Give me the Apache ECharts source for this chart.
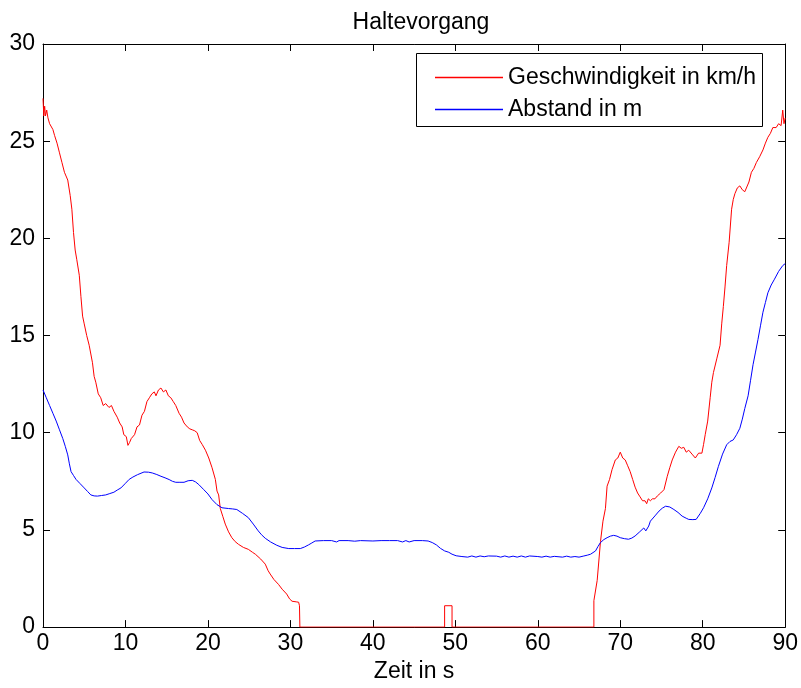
<!DOCTYPE html>
<html>
<head>
<meta charset="utf-8">
<script src="https://cdn.jsdelivr.net/npm/echarts@6/dist/echarts.min.js"></script>
<style>
html,body{margin:0;padding:0;background:#fff;}
#chart{width:801px;height:688px;}
</style>
</head>
<body>
<div id="chart"></div>
<script>
var titleText = 'Haltevorgang';
var xAxisName = 'Zeit in s';
var seriesNames = ['Geschwindigkeit in km/h', 'Abstand in m'];
var seriesColors = ['#ff0000', '#0000ff'];
var xTicks = [0, 10, 20, 30, 40, 50, 60, 70, 80, 90];
var yTicks = [0, 5, 10, 15, 20, 25, 30];

var speedTime = [0,0.1,0.2,0.3,0.45,0.6,0.8,1.0,1.2,1.4,1.7,2.0,2.3,2.6,3.0,3.3,3.5,3.7,3.9,4.1,4.4,4.6,4.8,5.0,5.3,5.6,6.0,6.2,6.4,6.7,7.0,7.3,7.6,8.0,8.3,8.6,8.8,9.0,9.3,9.6,9.8,10.1,10.3,10.5,10.7,10.9,11.1,11.4,11.7,12.0,12.3,12.6,12.9,13.2,13.5,13.7,14.0,14.3,14.6,14.9,15.2,15.5,15.8,16.1,16.5,16.8,17.1,17.5,17.8,18.1,18.4,18.7,19.0,19.3,19.7,20.1,20.5,20.9,21.1,21.3,21.5,21.8,22.1,22.5,22.9,23.3,23.7,24.3,24.9,25.4,25.75,26.4,26.95,27.3,27.55,28.0,28.55,29.0,29.55,29.9,30.2,30.7,31.0,31.1,31.15,48.7,48.7,49.6,49.6,66.8,66.8,67.0,67.2,67.4,67.6,67.9,68.2,68.4,68.7,69.0,69.4,69.7,70.0,70.3,70.6,70.9,71.2,71.5,71.8,72.1,72.4,72.7,73.0,73.2,73.4,73.65,73.9,74.2,74.5,74.9,75.3,75.7,76.0,76.3,76.7,77.1,77.4,77.7,78.0,78.3,78.7,79.1,79.5,79.9,80.1,80.3,80.6,80.9,81.1,81.3,81.7,82.1,82.3,82.5,82.7,82.9,83.2,83.5,83.7,83.9,84.2,84.5,84.8,85.1,85.3,85.6,85.9,86.2,86.5,86.9,87.3,87.6,87.9,88.2,88.5,88.9,89.2,89.5,89.7,89.85,90];
var speedValues = [27.2,26.3,26.8,26.3,26.6,26.2,25.9,25.8,25.6,25.3,24.9,24.4,23.9,23.4,23.0,22.2,21.5,20.3,19.4,18.9,18.1,17.0,16.0,15.6,15.0,14.5,13.6,12.9,12.6,12.0,11.8,11.4,11.5,11.3,11.4,11.1,11.2,10.8,10.5,10.3,9.9,9.8,9.35,9.5,9.7,9.6,9.9,10.3,10.4,10.9,11.1,11.6,11.8,12.0,12.1,11.9,12.2,12.3,12.1,12.2,11.9,11.8,11.6,11.4,11.0,10.8,10.5,10.3,10.2,10.15,10.1,10.0,9.6,9.4,9.1,8.7,8.2,7.6,7.0,6.8,6.1,5.7,5.3,4.9,4.6,4.4,4.26,4.1,4.0,3.85,3.75,3.5,3.24,2.9,2.73,2.45,2.2,1.95,1.7,1.45,1.33,1.3,1.28,1.1,0,0,1.1,1.1,0,0,1.36,1.36,2.4,3.4,4.4,5.45,6.1,7.25,7.6,8.1,8.6,8.7,9.0,8.7,8.6,8.3,8.0,7.6,7.2,6.9,6.7,6.5,6.5,6.35,6.6,6.5,6.6,6.6,6.75,6.9,7.07,7.76,8.2,8.6,9.0,9.3,9.2,9.25,9.0,9.1,8.9,8.7,8.95,8.95,9.4,9.9,10.6,11.8,12.6,13.1,13.8,14.5,15.6,16.5,17.5,18.6,19.8,21.5,22.0,22.3,22.6,22.7,22.5,22.4,22.3,22.9,23.4,23.6,23.9,24.2,24.55,24.9,25.2,25.4,25.7,25.7,25.9,25.8,26.6,25.9,26.2];

var distTime = [0,0.4,0.8,1.2,1.6,2.0,2.4,2.7,3.0,3.2,3.4,3.7,4.0,4.5,5.0,5.4,5.8,6.2,6.6,7.1,7.6,8.1,8.6,9.0,9.45,10.0,10.45,10.9,11.45,12.25,12.8,13.25,13.8,14.3,14.8,15.3,15.7,16.1,16.6,17.1,17.6,18.1,18.5,18.9,19.5,20.0,20.5,21.1,21.7,22.5,23.0,23.5,24.2,24.9,25.5,26.1,26.5,26.95,27.6,28.35,29.0,29.8,30.5,31.2,31.7,32.2,32.6,33.0,34.0,35.0,35.6,35.9,37.0,37.8,38.5,40.0,41.0,42.0,43.0,43.6,44.0,44.4,45.0,46.0,46.7,47.2,47.7,48.2,48.7,49.2,49.6,50.1,50.8,51.5,52.0,52.5,53.0,53.5,54.0,55.0,55.5,56.0,56.5,57.0,57.5,58.0,58.5,59.0,60.0,60.5,61.0,61.5,62.0,63.0,63.5,64.0,64.5,65.0,65.5,66.0,66.4,67.0,67.3,67.6,68.0,68.4,68.8,69.2,69.6,70.0,70.5,71.0,71.4,71.8,72.3,72.85,73.1,73.25,73.45,73.65,74.2,74.7,75.1,75.5,76.0,76.5,77.0,77.5,78.0,78.3,78.8,79.2,79.7,80.1,80.6,81.1,81.5,81.9,82.4,82.9,83.3,83.7,84.1,84.5,84.8,85.1,85.5,85.8,86.1,86.4,86.7,87.0,87.3,87.6,87.9,88.3,88.7,89.2,89.7,90];
var distValues = [12.2,11.8,11.4,11.0,10.6,10.15,9.7,9.3,8.86,8.4,8.0,7.8,7.6,7.38,7.16,6.98,6.8,6.75,6.74,6.77,6.8,6.87,6.94,7.05,7.16,7.4,7.6,7.72,7.84,7.98,7.97,7.93,7.85,7.76,7.68,7.59,7.5,7.45,7.45,7.45,7.53,7.55,7.47,7.33,7.07,6.85,6.56,6.3,6.14,6.1,6.08,6.05,5.85,5.63,5.3,4.95,4.75,4.57,4.38,4.21,4.1,4.04,4.04,4.04,4.12,4.23,4.33,4.43,4.45,4.45,4.38,4.45,4.45,4.42,4.45,4.43,4.45,4.45,4.45,4.38,4.45,4.38,4.45,4.45,4.43,4.35,4.23,4.05,3.92,3.85,3.75,3.67,3.63,3.6,3.66,3.6,3.66,3.62,3.66,3.65,3.6,3.66,3.6,3.65,3.6,3.66,3.6,3.66,3.63,3.6,3.65,3.6,3.64,3.6,3.65,3.6,3.63,3.6,3.65,3.7,3.75,3.92,4.15,4.35,4.5,4.6,4.68,4.72,4.68,4.6,4.55,4.52,4.58,4.69,4.88,5.1,4.95,4.9,5.2,5.45,5.72,5.97,6.12,6.22,6.18,6.05,5.9,5.71,5.6,5.54,5.53,5.54,5.85,6.14,6.6,7.16,7.7,8.27,8.9,9.38,9.55,9.63,9.9,10.23,10.7,11.25,11.9,12.7,13.5,14.15,14.8,15.5,16.2,16.7,17.2,17.6,17.9,18.3,18.6,18.7];

function pairs(xs, ys) {
  var out = [];
  for (var i = 0; i < xs.length; i++) out.push([xs[i], ys[i]]);
  return out;
}

var FONT = '"Liberation Sans", Arial, Helvetica, sans-serif';
var FS = 23;
var chart = echarts.init(document.getElementById('chart'), null, {renderer: 'canvas'});

var axisCommon = {
  axisLine: {show: true, onZero: false, lineStyle: {color: '#000', width: 1}},
  axisTick: {show: true, inside: true, length: 7, lineStyle: {color: '#000', width: 1}},
  splitLine: {show: false}
};

var option = {
  backgroundColor: '#fff',
  animation: false,
  color: seriesColors,
  textStyle: {fontFamily: FONT},
  title: {
    text: titleText,
    left: 416, top: 6, textAlign: 'center',
    textStyle: {fontFamily: FONT, fontSize: FS, fontWeight: 'normal', color: '#000'}
  },
  grid: {left: 43, right: 12, top: 44, bottom: 58, containLabel: false},
  graphic: [{
    type: 'rect', z: 50,
    shape: {x: 416.5, y: 53.5, width: 346, height: 73},
    style: {fill: '#fff', stroke: '#000', lineWidth: 1}
  }],
  legend: {
    z: 60,
    orient: 'vertical',
    left: 430, top: 61,
    icon: 'rect',
    itemWidth: 68, itemHeight: 1.5, itemGap: 9,
    data: [
      {name: seriesNames[0], itemStyle: {color: seriesColors[0]}},
      {name: seriesNames[1], itemStyle: {color: seriesColors[1]}}
    ],
    textStyle: {fontFamily: FONT, fontSize: FS, color: '#000', padding: [0, 0, 0, 0]}
  },
  xAxis: [
    Object.assign({
      type: 'value', min: 0, max: 90, interval: 10, position: 'bottom',
      name: xAxisName, nameLocation: 'middle', nameGap: 26,
      nameTextStyle: {fontFamily: FONT, fontSize: FS, color: '#000'},
      axisLabel: {show: true, margin: 5, fontSize: FS, color: '#000', fontFamily: FONT,
        formatter: function (v) { return xTicks.indexOf(v) >= 0 ? String(v) : ''; }}
    }, axisCommon),
    Object.assign({
      type: 'value', min: 0, max: 90, interval: 10, position: 'top',
      axisLabel: {show: false}
    }, axisCommon)
  ],
  yAxis: [
    Object.assign({
      type: 'value', min: 0, max: 30, interval: 5, position: 'left',
      axisLabel: {show: true, margin: 8, fontSize: FS, color: '#000', fontFamily: FONT,
        formatter: function (v) { return yTicks.indexOf(v) >= 0 ? String(v) : ''; }}
    }, axisCommon),
    Object.assign({
      type: 'value', min: 0, max: 30, interval: 5, position: 'right',
      axisLabel: {show: false}
    }, axisCommon)
  ],
  series: [
    {
      name: seriesNames[0], type: 'line', xAxisIndex: 0, yAxisIndex: 0,
      data: pairs(speedTime, speedValues),
      symbol: 'none', showSymbol: false, silent: true,
      lineStyle: {color: seriesColors[0], width: 1},
      itemStyle: {color: seriesColors[0]}
    },
    {
      name: seriesNames[1], type: 'line', xAxisIndex: 0, yAxisIndex: 0,
      data: pairs(distTime, distValues),
      symbol: 'none', showSymbol: false, silent: true,
      lineStyle: {color: seriesColors[1], width: 1},
      itemStyle: {color: seriesColors[1]}
    }
  ]
};
chart.setOption(option);
</script>
</body>
</html>
